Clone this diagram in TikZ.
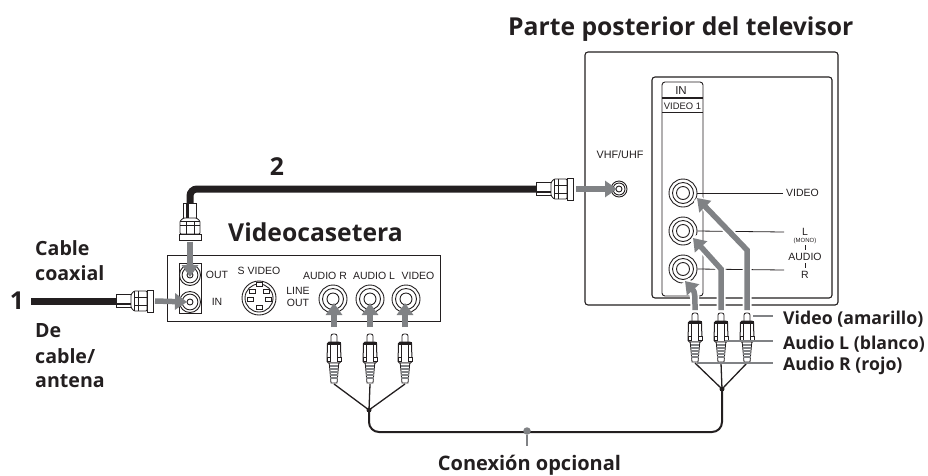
\documentclass[tikz,border=0pt]{standalone}
\usepackage{fontspec}
\setmainfont{Liberation Sans}
\newfontfamily\headfont{Open Sans}
\usetikzlibrary{arrows.meta}
\definecolor{arrgrey}{HTML}{808285}
\definecolor{ink}{HTML}{231F20}
\tikzset{
  box/.style={draw=ink,line width=1pt,fill=white,rounded corners=3pt},
  sqbox/.style={draw=ink,line width=1pt},
  lab/.style={inner sep=0pt,font=\fontsize{10.5}{11}\selectfont,text=ink},
  head/.style={inner sep=0pt,anchor=west,text=ink,font=\headfont\bfseries\fontsize{19.6}{21}\selectfont},
  tag/.style={inner sep=0pt,anchor=west,text=ink,font=\headfont\bfseries\fontsize{17.7}{19}\selectfont},
  big/.style={inner sep=0pt,text=ink,font=\headfont\bfseries\fontsize{24.7}{27}\selectfont},
  coaxline/.style={draw=ink,line width=7pt},
  wire/.style={draw=ink,line width=1.3pt},
  bus/.style={draw=ink,line width=2pt,rounded corners=10pt},
  leader/.style={draw=arrgrey,line width=1.1pt},
  thin/.style={draw=ink,line width=.8pt},
  garrow/.style={draw=arrgrey,line width=5.5pt,-{Triangle[length=12pt,width=16pt]}},
  halo/.style={preaction={draw=white,line width=9pt,-}},
  jackc/.style={circle,draw=ink,line width=.9pt,fill=white,inner sep=0pt},
  pics/rcaplug/.style={code={
    \draw[thin,fill=white,rounded corners=2pt] (-3,10) -- (-3,1) -- (3,1) -- (3,10);
    \draw[thin,fill=white,line width=1pt,rounded corners=1.5pt] (-6.5,9) -- (6.5,9) -- (7,30) -- (-7,30) -- cycle;
    \fill[ink] (-6.5,9) rectangle (6.5,11.5);
    \draw[thin] (-3.4,11) -- (-3.4,28) (3.4,11) -- (3.4,28);
    \draw[thin,fill=white] (-7,24) rectangle (-3.4,28) (3.4,24) rectangle (7,28);
    \draw[thin,fill=white] (-4.8,30) -- (4.8,30) -- (3,50) -- (-3,50) -- cycle;
    \foreach \yy in {33,36,39,42,45}{\draw[arrgrey,line width=1.1pt] (-4.3,\yy) -- (4.3,\yy);}
  }},
  pics/coax/.style={code={
    \draw[thin,fill=white] (0,-6.5) rectangle (15,6.5);
    \fill[ink] (0,1.5) rectangle (15,4);
    \draw[thin,fill=white,rounded corners=1pt] (15,-6.5) -- (18,-10) -- (31,-10) -- (31,10) -- (18,10) -- (15,6.5) -- cycle;
    \draw[thin,fill=white] (31,-11) rectangle (37,11);
    \draw[thin] (18,-10) -- (18,10) (22,-10) -- (22,10);
    \draw[thin] (18,4) -- (31,4) (18,-4) -- (31,-4);
  }}
}
\newcommand{\jack}[5]{%
  \node[jackc,minimum size=#4*2pt] (#1) at (#2,#3) {};
  \node[jackc,minimum size=#4*1.5pt] at (#2,#3) {};
  \node[jackc,minimum size=#5*2pt] at (#2,#3) {};
}
\begin{document}
\begin{tikzpicture}[x=1pt,y=-1pt]
\useasboundingbox (0,0) rectangle (928,475);
% TV
\draw[box,line width=1.1pt] (585,52) rectangle (838,305);
\draw[box,line width=1.1pt] (652,77) rectangle (832,298);
\draw[box,line width=.9pt] (662,82) rectangle (703,296);
\draw[draw=ink,line width=1.6pt] (662,98) -- (703,98);
\draw[thin] (662,112) -- (703,112);
\node[lab,font=\fontsize{11.5}{12}\selectfont] (tvin) at (681,90.5) {IN};
\node[lab,font=\fontsize{9.4}{10}\selectfont] (tvv1) at (682.5,106) {VIDEO 1};
\node[lab,font=\fontsize{10.8}{11}\selectfont] (vhf) at (620,155) {VHF/UHF};
\jack{tvvhf}{619}{189}{8}{3}
\jack{tvvideo}{683}{193}{14}{6.5}
\jack{tvl}{683}{231}{14}{6.5}
\jack{tvr}{683}{269}{14}{6.5}
\node[lab,anchor=west] (lv) at (786,193) {VIDEO};
\node[lab] (ll) at (805,232) {L};
\node[lab,font=\fontsize{6}{7}\selectfont] (lm) at (805,240.5) {(MONO)};
\node[lab] (la) at (805,257) {AUDIO};
\node[lab] (lr) at (805,275) {R};
\draw[thin] (805,245) -- (805,250) (805,263) -- (805,268);
\coordinate (ev) at (783,193); \coordinate (el) at (784,232); \coordinate (er) at (784,270);
\draw[thin] (tvvideo.east) -- (ev);
\draw[thin] (tvl.east) -- (el);
\draw[thin] (tvr.east) -- (er);
% VCR
\draw[sqbox,fill=white] (167,255) rectangle (440,321);
\draw[thin] (179,263) rectangle (201,313);
\jack{vout}{190}{275}{10.5}{3}
\jack{vin}{190}{302}{10.5}{3}
\node[lab] (tout) at (217,275) {OUT};
\node[lab] (tin) at (217,302) {IN};
\node[lab] (tsv) at (259,271) {S VIDEO};
\node[lab,align=center,font=\fontsize{10.5}{12}\selectfont] (tlo) at (298,297) {LINE\\OUT};
\node[lab] (tar) at (325,276) {AUDIO R};
\node[lab] (tal) at (374,276) {AUDIO L};
\node[lab] (tvd) at (418,276) {VIDEO};
\node[jackc,minimum size=34pt] (sv) at (259,298) {};
\node[jackc,minimum size=28pt] at (259,298) {};
\foreach \a/\b in {252/291,266/291,250/299,268/299,259/284,259/307}
  {\draw[thin,fill=white] (\a-3,\b-2) rectangle (\a+3,\b+2);}
\jack{jr}{333}{299}{14}{6}
\jack{jl}{370}{299}{14}{6}
\jack{jv}{406}{299}{14}{6}
% coax cables
\coordinate (c1s) at (31,301); \coordinate (c1e) at (116,301);
\draw[coaxline] (c1s) -- (c1e);
\pic at (c1e) {coax};
\coordinate (c2a) at (190,203); \coordinate (c2b) at (190,189); \coordinate (c2c) at (536,189);
\draw[coaxline,rounded corners=7pt] (c2a) -- (c2b) -- (c2c);
\pic[rotate=-90] at (c2a) {coax};
\pic at (c2c) {coax};
\coordinate (a1) at (155,301); \coordinate (a2) at (190,241.5); \coordinate (a3) at (576,189);
\draw[garrow,shorten >=3pt] (a1) -- (vin.center);
\draw[garrow,shorten >=-2pt] (a2) -- (vout.center);
\draw[garrow,shorten >=2pt] (a3) -- (tvvhf.center);
% plugs
\foreach \n/\xx in {pa/334,pb/370,pc/405}{\coordinate (\n) at (\xx,333); \pic at (\n) {rcaplug}; \coordinate (\n e) at (\xx,384);}
\foreach \n/\xx in {pd/695,pe/721,pf/747}{\coordinate (\n) at (\xx,312); \pic at (\n) {rcaplug}; \coordinate (\n e) at (\xx,363);}
% arrows into VCR
\foreach \xx/\q in {334/jr,370/jl,405/jv}{\coordinate (s\q) at (\xx,327); \coordinate (t\q) at (\xx,303); \draw[garrow] (s\q) -- (t\q);}
% arrows into TV
\coordinate (vb1) at (747,310); \coordinate (vb2) at (747,250); \coordinate (vt) at (697,198);
\coordinate (lb1) at (721,310); \coordinate (lb2) at (721,269); \coordinate (lt) at (693,238);
\coordinate (rb1) at (695,310); \coordinate (rb2) at (695,295); \coordinate (rt) at (685,281);
\draw[garrow,halo] (vb1) -- (vb2) -- (vt);
\draw[garrow,halo] (lb1) -- (lb2) -- (lt);
\draw[garrow,halo] (rb1) .. controls (rb2) and (695,292) .. (rt);
% wires
\coordinate (j1) at (369,410); \coordinate (j2) at (722,389);
\draw[wire] (pae) -- (j1); \draw[wire] (pbe) -- (j1); \draw[wire] (pce) -- (j1);
\draw[wire] (pde) -- (j2); \draw[wire] (pee) -- (j2); \draw[wire] (pfe) -- (j2);
\fill[ink] (j1) circle (2.5pt) (j2) circle (2.5pt);
\coordinate (b1) at (369,432); \coordinate (b2) at (722,432);
\draw[bus] (j1) -- (b1) -- (b2) -- (j2);
% optional label
\node[circle,fill=arrgrey,inner sep=0pt,minimum size=7.5pt] (dot) at (527,431) {};
\node[head,anchor=center,font=\headfont\bfseries\fontsize{20}{22}\selectfont] (copt) at (529.5,465) {Conexión opcional};
\coordinate (dote) at (527,446);
\draw[leader,line width=2pt] (dot) -- (dote);
% big titles
\node[big,anchor=west] (tt) at (508,29) {Parte posterior del televisor};
\node[big,anchor=west] (tvc) at (228,232) {Videocasetera};
\node[big,anchor=center] (n2) at (277,167) {2};
\node[big,anchor=center] (n1) at (17,301) {1};
\node[head] (tca) at (35,248) {Cable};
\node[head] (tco) at (35,273) {coaxial};
\node[head] (tde) at (35,331) {De};
\node[head] (tcb) at (35,356) {cable/};
\node[head] (tan) at (35,381) {antena};
\node[tag] (lvid) at (783,319) {Video (amarillo)};
\node[tag] (laul) at (783,344) {Audio L (blanco)};
\node[tag] (laur) at (783,366) {Audio R (rojo)};
\coordinate (l1) at (753,316); \coordinate (l2) at (725,341); \coordinate (l3) at (697,363);
\coordinate (l1e) at (773,316); \coordinate (l2e) at (773,341); \coordinate (l3e) at (773,363);
\draw[leader] (l1) -- (l1e); \draw[leader] (l2) -- (l2e); \draw[leader] (l3) -- (l3e);
\end{tikzpicture}
\end{document}
